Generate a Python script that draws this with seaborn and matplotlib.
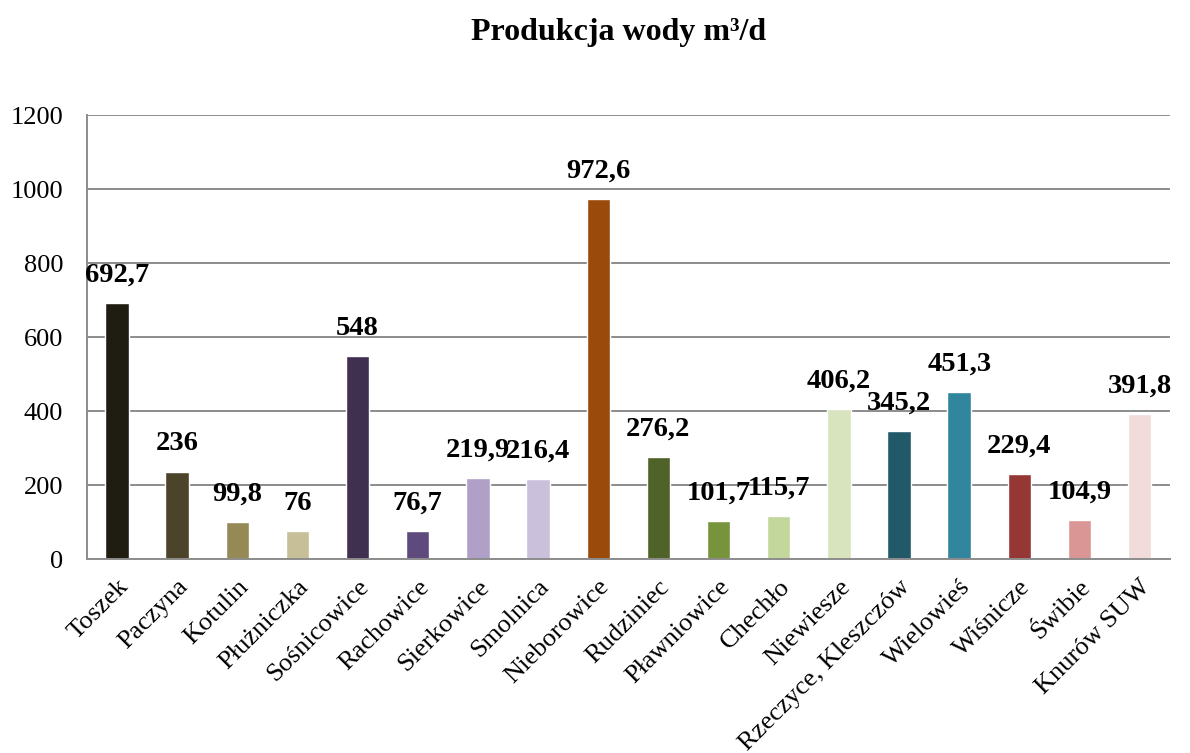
import matplotlib
matplotlib.use("Agg")
import matplotlib.pyplot as plt
import seaborn as sns
import pandas as pd
import numpy as np

names = ["Toszek", "Paczyna", "Kotulin", "Płużniczka", "Sośnicowice", "Rachowice",
         "Sierkowice", "Smolnica", "Nieborowice", "Rudziniec", "Pławniowice", "Chechło",
         "Niewiesze", "Rzeczyce, Kleszczów", "Wielowieś", "Wiśnicze", "Świbie", "Knurów SUW"]
values = [692.7, 236, 99.8, 76, 548, 76.7, 219.9, 216.4, 972.6, 276.2, 101.7, 115.7,
          406.2, 345.2, 451.3, 229.4, 104.9, 391.8]
colors = ["#1f1d12", "#4b442a", "#958a55", "#c6bf97", "#3f3050", "#5f4a7d",
          "#b0a0c8", "#cac0dc", "#9a4a0a", "#4f6228", "#77933c", "#c3d69b",
          "#d7e4bd", "#215968", "#31859c", "#953735", "#d99694", "#f2dcdb"]

df = pd.DataFrame({"name": names, "value": values})

sns.set_style("white")
plt.rcParams['font.family'] = ['Liberation Serif', 'DejaVu Serif']
plt.rcParams['text.color'] = 'black'
plt.rcParams['xtick.labelcolor'] = 'black'
plt.rcParams['ytick.labelcolor'] = 'black'

fig = plt.figure(figsize=(11.9, 7.53), dpi=100)
ax = fig.add_axes([0.073, 0.2576, 0.910, 0.5894])

sns.barplot(data=df, x="name", y="value", hue="name", palette=colors, legend=False,
            width=0.39, saturation=1, ax=ax)

def fmt(v):
    s = ("%.1f" % v).replace(".", ",")
    return s[:-2] if s.endswith(",0") else s

for i, v in enumerate(values):
    ax.annotate(fmt(v), (i, v), xytext=(0, 11), textcoords="offset points",
                ha="center", va="bottom", fontsize=20.5, fontweight="bold", color="black")

ax.set_ylim(0, 1200)
ax.set_xlim(-0.5, len(names) - 0.5)
ax.set_yticks(range(0, 1201, 200))
ax.yaxis.grid(True, color="#8c8c8c", lw=1.4)
ax.set_axisbelow(True)
for s in ["top", "right"]:
    ax.spines[s].set_visible(False)
for s in ["left", "bottom"]:
    ax.spines[s].set_color("#8c8c8c")
    ax.spines[s].set_linewidth(1.4)

ax.set_xticks(np.arange(len(names)))
ax.set_xticklabels(names, rotation=45, ha="right", rotation_mode="anchor", fontsize=19,
                   color="black")
ax.set_xticks(np.arange(-0.5, len(names)), minor=True)
ax.tick_params(axis="x", which="major", length=0, pad=12)
ax.tick_params(axis="x", which="minor", length=8, width=1.4, color="#8c8c8c", direction="out")
ax.tick_params(axis="y", length=7, width=1.4, color="#8c8c8c", direction="out",
               labelsize=19, pad=10, labelcolor="black")
ax.set_xlabel("")
ax.set_ylabel("")

fig.text(0.52, 0.957, "Produkcja wody m³/d", ha="center", va="center",
         fontsize=23, fontweight="bold", color="black")

fig.savefig("out.png", dpi=100)
